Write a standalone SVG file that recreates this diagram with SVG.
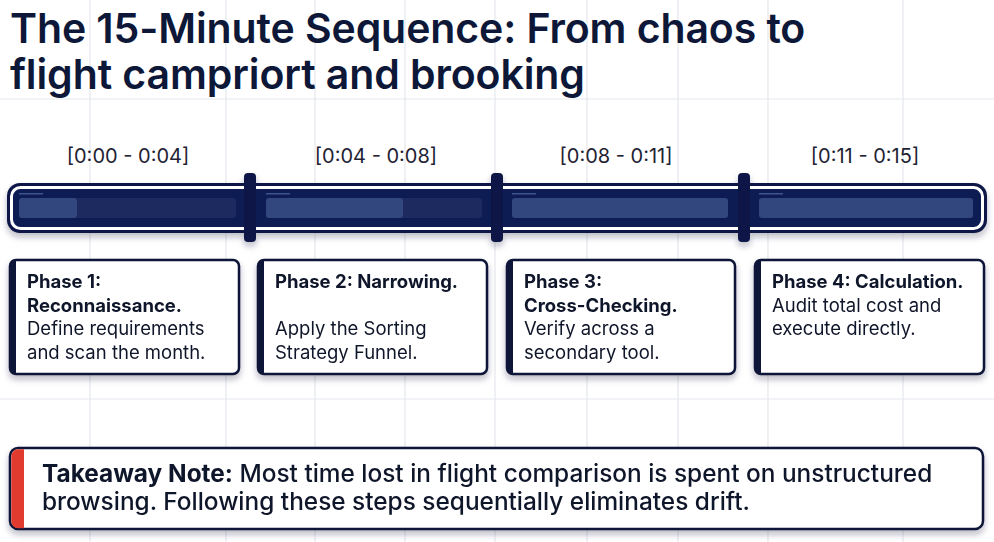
<svg xmlns="http://www.w3.org/2000/svg" width="994" height="542" viewBox="0 0 994 542">
<defs>
<style>
.grid{stroke:#e5e7ed;stroke-width:1.2}
.title{font-family:Inter,"Liberation Sans",sans-serif;font-weight:600;font-size:41px;fill:#0d1738;letter-spacing:-0.1px}
.time{font-family:Inter,"Liberation Sans",sans-serif;font-size:20px;fill:#1f2233}
.card{fill:#ffffff;stroke:#0d1738;stroke-width:2.5}
.accent{fill:#0d1738}
.ph{font-family:Inter,"Liberation Sans",sans-serif;font-size:18.5px;fill:#111629}
.b{font-weight:700}
.note{font-family:Inter,"Liberation Sans",sans-serif;font-size:24.4px;fill:#111629;font-weight:500}
.panel{fill:#1a2a5e}
.prog{fill:#33467e}
.divider{fill:#0b1846}
.tick{fill:#3f538c}
</style>
<filter id="sh" x="-10%" y="-20%" width="120%" height="150%">
<feDropShadow dx="0" dy="4" stdDeviation="3" flood-color="#1a2240" flood-opacity="0.3"/>
</filter>
</defs>
<rect width="994" height="542" fill="#ffffff"/>
<g id="grid">
<line class="grid" x1="90" y1="0" x2="90" y2="542"/>
<line class="grid" x1="226" y1="0" x2="226" y2="542"/>
<line class="grid" x1="315" y1="0" x2="315" y2="542"/>
<line class="grid" x1="405" y1="0" x2="405" y2="542"/>
<line class="grid" x1="495" y1="0" x2="495" y2="542"/>
<line class="grid" x1="587" y1="0" x2="587" y2="542"/>
<line class="grid" x1="678" y1="0" x2="678" y2="542"/>
<line class="grid" x1="768" y1="0" x2="768" y2="542"/>
<line class="grid" x1="903" y1="0" x2="903" y2="542"/>
<line class="grid" x1="0" y1="99" x2="994" y2="99"/>
<line class="grid" x1="0" y1="399" x2="994" y2="399"/>
</g>
<g id="title">
<text class="title" x="10" y="43">The 15-Minute Sequence: From chaos to</text>
<text class="title" x="10" y="89">flight campriort and brooking</text>
</g>
<g id="time-labels">
<text class="time" x="128" y="163" text-anchor="middle">[0:00 - 0:04]</text>
<text class="time" x="376" y="163" text-anchor="middle">[0:04 - 0:08]</text>
<text class="time" x="616" y="163" text-anchor="middle">[0:08 - 0:11]</text>
<text class="time" x="865" y="163" text-anchor="middle">[0:11 - 0:15]</text>
</g>
<g id="timeline" filter="url(#sh)">
<rect x="7" y="183" width="980" height="50" rx="13" fill="#0b1846"/>
<rect x="11.5" y="187.5" width="971" height="41" rx="9" fill="#0e1d52" stroke="#ffffff" stroke-width="3"/>
<rect class="panel" x="19" y="198" width="217" height="20" rx="3"/>
<rect class="prog" x="19" y="198" width="58" height="20" rx="3"/>
<rect class="panel" x="266" y="198" width="216" height="20" rx="3"/>
<rect class="prog" x="266" y="198" width="137" height="20" rx="3"/>
<rect class="prog" x="512" y="198" width="216" height="20" rx="3"/>
<rect class="prog" x="759" y="198" width="214" height="20" rx="3"/>
<rect class="tick" x="19" y="193" width="24" height="1.5"/>
<rect class="tick" x="266" y="193" width="24" height="1.5"/>
<rect class="tick" x="512" y="193" width="24" height="1.5"/>
<rect class="tick" x="759" y="193" width="24" height="1.5"/>
<rect class="divider" x="244" y="173" width="12" height="69" rx="4"/>
<rect class="divider" x="491" y="173" width="12" height="69" rx="4"/>
<rect class="divider" x="738" y="173" width="12" height="69" rx="4"/>
</g>
<g id="phase1" filter="url(#sh)">
<rect class="card" x="10" y="260" width="229" height="114" rx="6"/>
<path class="accent" d="M16,260 a6,6 0 0 0 -6,6 v102 a6,6 0 0 0 6,6 z"/>
<text class="ph" x="27" y="288"><tspan class="b">Phase 1:</tspan><tspan class="b" x="27" dy="23.5">Reconnaissance.</tspan><tspan x="27" dy="23.5">Define requirements</tspan><tspan x="27" dy="23.5">and scan the month.</tspan></text>
</g>
<g id="phase2" filter="url(#sh)">
<rect class="card" x="258" y="260" width="229" height="114" rx="6"/>
<path class="accent" d="M264,260 a6,6 0 0 0 -6,6 v102 a6,6 0 0 0 6,6 z"/>
<text class="ph" x="275" y="288"><tspan class="b">Phase 2: Narrowing.</tspan><tspan x="275" dy="47">Apply the Sorting</tspan><tspan x="275" dy="23.5">Strategy Funnel.</tspan></text>
</g>
<g id="phase3" filter="url(#sh)">
<rect class="card" x="507" y="260" width="228" height="114" rx="6"/>
<path class="accent" d="M513,260 a6,6 0 0 0 -6,6 v102 a6,6 0 0 0 6,6 z"/>
<text class="ph" x="524" y="288"><tspan class="b">Phase 3:</tspan><tspan class="b" x="524" dy="23.5">Cross-Checking.</tspan><tspan x="524" dy="23.5">Verify across a</tspan><tspan x="524" dy="23.5">secondary tool.</tspan></text>
</g>
<g id="phase4" filter="url(#sh)">
<rect class="card" x="755" y="260" width="229" height="114" rx="6"/>
<path class="accent" d="M761,260 a6,6 0 0 0 -6,6 v102 a6,6 0 0 0 6,6 z"/>
<text class="ph" x="772" y="288"><tspan class="b">Phase 4: Calculation.</tspan><tspan x="772" dy="23.5">Audit total cost and</tspan><tspan x="772" dy="23.5">execute directly.</tspan></text>
</g>
<g id="takeaway" filter="url(#sh)">
<rect x="10" y="448" width="973" height="81" rx="8" fill="#ffffff" stroke="#0d1738" stroke-width="2.5"/>
<path d="M24,449.3 h-6 a7,7 0 0 0 -6.7,7 v65 a7,7 0 0 0 6.7,7 h6 z" fill="#e03b2f"/>
<text class="note" x="42" y="482"><tspan font-weight="700">Takeaway Note:</tspan> Most time lost in flight comparison is spent on unstructured</text>
<text class="note" x="42" y="510">browsing. Following these steps sequentially eliminates drift.</text>
</g>
</svg>
